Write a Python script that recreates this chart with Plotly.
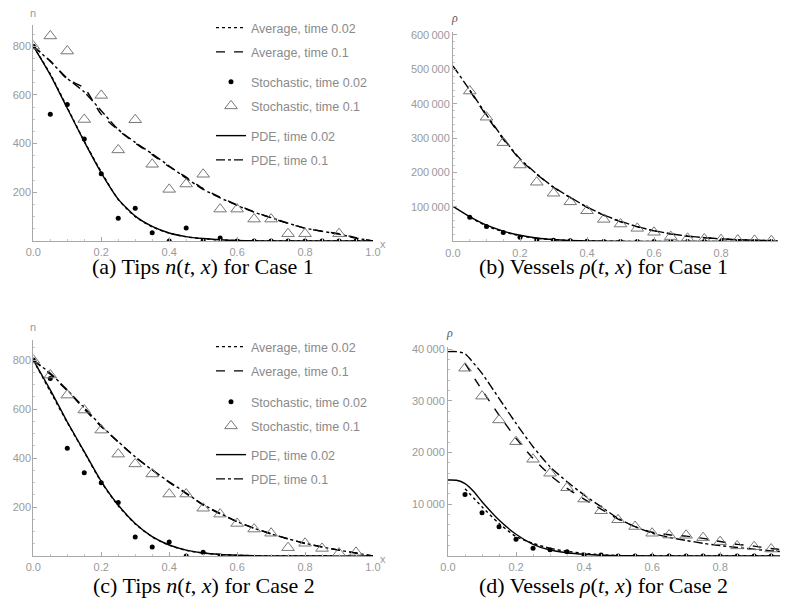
import plotly.graph_objects as go

# ---------------- data ----------------
X21 = [0.0, 0.05, 0.1, 0.15, 0.2, 0.25, 0.3, 0.35, 0.4, 0.45, 0.5, 0.55, 0.6, 0.65, 0.7, 0.75, 0.8, 0.85, 0.9, 0.95, 1.0]
X_05_95 = [0.05, 0.1, 0.15, 0.2, 0.25, 0.3, 0.35, 0.4, 0.45, 0.5, 0.55, 0.6, 0.65, 0.7, 0.75, 0.8, 0.85, 0.9, 0.95]
X_05_100 = X_05_95 + [1.0]

# Panel (a): Tips, Case 1
a_avg_002 = [800, 686, 548, 410, 284, 170, 100, 58, 32, 17, 9, 4, 2, 1, 0, 0, 0, 0, 0, 0, 0]
a_avg_01 = [800, 740, 665, 628, 520, 455, 402, 355, 305, 262, 215, 180, 148, 120, 95, 72, 52, 40, 30, 14, 0]
a_sto_002_x = [0.0, 0.05, 0.1, 0.15, 0.2, 0.25, 0.3, 0.35, 0.4, 0.45, 0.5, 0.55, 0.6, 0.65, 0.7, 0.75, 0.8, 0.85, 0.9, 0.95]
a_sto_002 = [800, 520, 561, 419, 276, 93, 134, 34, 0, 53, 2, 12, 0, 0, 0, 0, 0, 0, 0, 0]
a_sto_01_x = [0.0, 0.05, 0.1, 0.15, 0.2, 0.25, 0.3, 0.35, 0.4, 0.45, 0.5, 0.55, 0.6, 0.65, 0.7, 0.75, 0.8, 0.9]
a_sto_01 = [800, 842, 780, 499, 598, 374, 498, 315, 212, 234, 274, 131, 131, 90, 90, 30, 30, 30]
a_pde_002 = [800, 682, 545, 408, 280, 172, 102, 60, 33, 18, 10, 5, 2, 1, 0, 0, 0, 0, 0, 0, 0]
a_pde_01 = [800, 737, 668, 612, 535, 458, 405, 358, 308, 258, 212, 177, 146, 118, 96, 73, 53, 40, 28, 12, 0]

# Panel (b): Vessels, Case 1
b_avg_002 = [70000, 45000, 28000, 16500, 9000, 5000, 2700, 1400, 600, 250, 100, 0, 0, 0, 0, 0, 0, 0, 0]
b_avg_01 = [438000, 365000, 297000, 238000, 195000, 157000, 127000, 99000, 76000, 57000, 42500, 30500, 21500, 15000, 10500, 7200, 5000, 3500, 2000]
b_sto_002 = [70000, 43000, 26000, 12000, 4000, 3000, 2000, 500, 0, 0, 0, 0, 0, 0, 0, 0, 0, 0, 0]
b_sto_01 = [437000, 361000, 287000, 222000, 172000, 140000, 115000, 89000, 64000, 50500, 38000, 26500, 14000, 9000, 7000, 5000, 4000, 3000, 2000]
b_pde_002 = [102000, 72000, 47000, 30000, 18000, 10000, 5500, 3000, 1500, 700, 300, 100, 0, 0, 0, 0, 0, 0, 0, 0, 0]
b_pde_01 = [510000, 440000, 368000, 300000, 240000, 196000, 158000, 128000, 100000, 77000, 58000, 43000, 31000, 22000, 15500, 11000, 7500, 5000, 3500, 2000, 1000]

# Panel (c): Tips, Case 2
c_avg_002 = [800, 672, 545, 424, 302, 205, 131, 78, 44, 23, 12, 6, 3, 1, 0, 0, 0, 0, 0, 0, 0]
c_avg_01 = [800, 742, 675, 600, 528, 465, 404, 352, 300, 255, 208, 172, 140, 114, 91, 70, 51, 37, 24, 12, 0]
c_sto_002_x = [0.0, 0.05, 0.1, 0.15, 0.2, 0.25, 0.3, 0.35, 0.4, 0.45, 0.5, 0.55]
c_sto_002 = [800, 725, 440, 340, 299, 218, 78, 37, 57, 0, 15, 0]
c_sto_01_x = [0.0, 0.05, 0.1, 0.15, 0.2, 0.25, 0.3, 0.35, 0.4, 0.45, 0.5, 0.55, 0.6, 0.65, 0.7, 0.75, 0.8, 0.85, 0.9, 0.95]
c_sto_01 = [800, 739, 657, 596, 514, 416, 376, 335, 253, 253, 195, 171, 133, 110, 93, 34, 52, 31, 12, 15]
c_pde_002 = [800, 678, 548, 426, 305, 208, 133, 79, 45, 24, 12, 6, 3, 1, 0, 0, 0, 0, 0, 0, 0]
c_pde_01 = [800, 746, 678, 605, 532, 467, 405, 351, 303, 257, 210, 174, 140, 113, 90, 70, 52, 37, 24, 12, 0]

# Panel (d): Vessels, Case 2
d_avg_002 = [13000, 9500, 6300, 3750, 2450, 1480, 900, 500, 250, 100, 40, 0, 0, 0, 0, 0, 0, 0, 0]
d_avg_01 = [37240, 32080, 27250, 22740, 18880, 15650, 13080, 11010, 9080, 7150, 5670, 4600, 4100, 3850, 3400, 2800, 2250, 1900, 1450, 1100]
d_sto_002 = [11900, 8380, 5670, 3250, 1480, 1220, 840, 200, 200, 0, 0, 0, 0, 0, 0, 0, 0, 0, 0]
d_sto_01 = [36300, 30900, 26300, 22100, 18700, 16000, 13200, 11000, 8750, 7000, 5700, 4400, 4050, 4000, 3550, 2770, 1950, 1800, 1350]
d_pde_002_x = [0.0, 0.025, 0.05, 0.075, 0.1, 0.15, 0.2, 0.25, 0.3, 0.35, 0.4, 0.45, 0.5, 0.6, 0.7, 0.8, 0.9, 1.0]
d_pde_002 = [14700, 14650, 14000, 12500, 10500, 6950, 4200, 2260, 1160, 640, 330, 150, 70, 10, 0, 0, 0, 0]
d_pde_01_x = [0.0, 0.025, 0.05, 0.075, 0.1, 0.15, 0.2, 0.25, 0.3, 0.35, 0.4, 0.45, 0.5, 0.55, 0.6, 0.65, 0.7, 0.75, 0.8, 0.85, 0.9, 0.95, 1.0]
d_pde_01 = [39500, 39500, 39100, 37300, 35300, 30470, 25640, 21120, 17260, 14360, 11790, 9530, 7280, 5670, 4400, 3600, 3000, 2450, 2000, 1650, 1300, 1000, 750]

LEG_NAMES = ["Average, time 0.02", "Average, time 0.1", "Stochastic, time 0.02",
             "Stochastic, time 0.1", "PDE, time 0.02", "PDE, time 0.1"]

# ---------------- styles ----------------
W, H = 789, 610
OFF = 8  # page body margin of the browser
AX_GRAY = "#a8a8a8"
TXT_GRAY = "#9a9a9a"
LEG_GRAY = "#8a8a8a"
LW = 1.4

fig = go.Figure()


def add_panel(sfx, avg002, avg01, sto002, sto01, pde002, pde01, legends):
    xa, ya = "x" + sfx, "y" + sfx
    show = legends is not None
    lg = legends if show else ["legend", "legend", "legend"]
    gp = "g" + (sfx or "1")
    common = dict(xaxis=xa, yaxis=ya, showlegend=show)
    fig.add_trace(go.Scatter(x=avg002[0], y=avg002[1], mode="lines", name=LEG_NAMES[0],
                             line=dict(color="black", width=LW, dash="dot", shape="spline", smoothing=0.6),
                             legend=lg[0], legendgroup=gp + "a", **common))
    fig.add_trace(go.Scatter(x=avg01[0], y=avg01[1], mode="lines", name=LEG_NAMES[1],
                             line=dict(color="black", width=LW, dash="dash", shape="spline", smoothing=0.6),
                             legend=lg[0], legendgroup=gp + "b", **common))
    fig.add_trace(go.Scatter(x=pde002[0], y=pde002[1], mode="lines", name=LEG_NAMES[4],
                             line=dict(color="black", width=LW, shape="spline", smoothing=0.6),
                             legend=lg[2], legendgroup=gp + "e", **common))
    fig.add_trace(go.Scatter(x=pde01[0], y=pde01[1], mode="lines", name=LEG_NAMES[5],
                             line=dict(color="black", width=LW, dash="dashdot", shape="spline", smoothing=0.6),
                             legend=lg[2], legendgroup=gp + "f", **common))
    fig.add_trace(go.Scatter(x=sto002[0], y=sto002[1], mode="markers", name=LEG_NAMES[2],
                             marker=dict(symbol="circle", size=5, color="black"),
                             legend=lg[1], legendgroup=gp + "c", **common))
    fig.add_trace(go.Scatter(x=sto01[0], y=sto01[1], mode="markers", name=LEG_NAMES[3],
                             marker=dict(symbol="triangle-up-open", size=11, color="#777777",
                                         line=dict(width=1)),
                             legend=lg[1], legendgroup=gp + "d", **common))


add_panel("", (X21, a_avg_002), (X21, a_avg_01), (a_sto_002_x, a_sto_002), (a_sto_01_x, a_sto_01),
          (X21, a_pde_002), (X21, a_pde_01), ["legend", "legend2", "legend3"])
add_panel("2", (X_05_95, b_avg_002), (X_05_95, b_avg_01), (X_05_95, b_sto_002), (X_05_95, b_sto_01),
          (X21, b_pde_002), (X21, b_pde_01), None)
add_panel("3", (X21, c_avg_002), (X21, c_avg_01), (c_sto_002_x, c_sto_002), (c_sto_01_x, c_sto_01),
          (X21, c_pde_002), (X21, c_pde_01), ["legend4", "legend5", "legend6"])
add_panel("4", (X_05_95, d_avg_002), (X_05_100, d_avg_01), (X_05_95, d_sto_002), (X_05_95, d_sto_01),
          (d_pde_002_x, d_pde_002), (d_pde_01_x, d_pde_01), None)


def px_x(p):
    return (p - OFF) / W


def px_y(p):
    return 1 - (p - OFF) / H


tickfont = dict(family="Liberation Sans", size=11, color=TXT_GRAY)


def xaxis(dom, rng, minor_dt, anchor):
    return dict(domain=[px_x(dom[0]), px_x(dom[1])], range=rng, showline=True, linecolor=AX_GRAY,
                linewidth=1, ticks="inside", ticklen=4, tickcolor=AX_GRAY, tickwidth=1,
                tickvals=[0, 0.2, 0.4, 0.6, 0.8, 1.0], tickformat=".1f", tickfont=tickfont,
                ticklabelstandoff=1,
                showgrid=False, zeroline=False, fixedrange=True, automargin=False, anchor=anchor,
                minor=dict(ticks="inside", ticklen=2, tickcolor="#c4c4c4", dtick=minor_dt, showgrid=False))


def yaxis(dom, rng, tv, tt, minor_dt, anchor, standoff):
    return dict(domain=[px_y(dom[1]), px_y(dom[0])], range=rng, showline=True, linecolor=AX_GRAY,
                linewidth=1, ticks="inside", ticklen=4, tickcolor=AX_GRAY, tickwidth=1,
                tickvals=tv, ticktext=tt, tickfont=tickfont, showgrid=False, zeroline=False,
                ticklabelstandoff=standoff,
                fixedrange=True, anchor=anchor, automargin=False,
                minor=dict(ticks="inside", ticklen=2, tickcolor="#c4c4c4", dtick=minor_dt, showgrid=False))


TS = "\u2009"
n_ticks = [200, 400, 600, 800]
b_ticks = [100000, 200000, 300000, 400000, 500000, 600000]
b_text = [f"{v // 1000}{TS}000" for v in b_ticks]
d_ticks = [10000, 20000, 30000, 40000]
d_text = [f"{v // 1000}{TS}000" for v in d_ticks]

legend_common = dict(font=dict(family="Liberation Sans", size=12.5, color=LEG_GRAY),
                     bgcolor="rgba(0,0,0,0)", borderwidth=0, itemwidth=30,
                     traceorder="grouped", tracegroupgap=5, xanchor="left", yanchor="top",
                     itemclick=False, itemdoubleclick=False)

layout = dict(
    template="none",
    width=W, height=H, margin=dict(l=0, r=0, t=0, b=0, pad=0, autoexpand=False),
    paper_bgcolor="white", plot_bgcolor="white",
    xaxis=xaxis((33.3, 373.0), [0, 1.0], 0.05, "y"),
    yaxis=yaxis((25, 241), [0, 887], n_ticks, [str(v) for v in n_ticks], 50, "x", -1),
    xaxis2=xaxis((453.0, 778.0), [0, 0.97], 0.05, "y2"),
    yaxis2=yaxis((32.2, 241.4), [0, 608000], b_ticks, b_text, 20000, "x2", 0),
    xaxis3=xaxis((33.3, 373.0), [0, 1.0], 0.05, "y3"),
    yaxis3=yaxis((340, 556), [0, 882], n_ticks, [str(v) for v in n_ticks], 50, "x3", -1),
    xaxis4=xaxis((448.0, 780.0), [0, 0.976], 0.05, "y4"),
    yaxis4=yaxis((347, 556), [0, 40400], d_ticks, d_text, 2000, "x4", 0),
)

leg_x = px_x(211)
for lid, top in [("legend", 13), ("legend2", 67), ("legend3", 121),
                 ("legend4", 332), ("legend5", 387), ("legend6", 440)]:
    layout[lid] = dict(x=leg_x, y=px_y(top), **legend_common)

fig.update_layout(**layout)

ann = []
lab_font = dict(family="Liberation Sans", size=11, color=TXT_GRAY)
rho_font = dict(family="Liberation Serif", size=12, color="#555555")
ann.append(dict(x=px_x(33), y=px_y(13), text="n", font=lab_font))
ann.append(dict(x=px_x(383), y=px_y(244), text="x", font=lab_font))
ann.append(dict(x=px_x(33), y=px_y(327), text="n", font=lab_font))
ann.append(dict(x=px_x(383), y=px_y(559), text="x", font=lab_font))
ann.append(dict(x=px_x(455), y=px_y(18), text="<i>ρ</i>", font=rho_font))
ann.append(dict(x=px_x(449), y=px_y(333), text="<i>ρ</i>", font=rho_font))
cap_font = dict(family="Liberation Serif", size=22, color="black")
ann.append(dict(x=px_x(203), y=px_y(266), text="(a) Tips <i>n</i>(<i>t</i>, <i>x</i>) for Case 1", font=cap_font))
ann.append(dict(x=px_x(603), y=px_y(266), text="(b) Vessels <i>ρ</i>(<i>t</i>, <i>x</i>) for Case 1", font=cap_font))
ann.append(dict(x=px_x(204), y=px_y(585), text="(c) Tips <i>n</i>(<i>t</i>, <i>x</i>) for Case 2", font=cap_font))
ann.append(dict(x=px_x(603), y=px_y(585), text="(d) Vessels <i>ρ</i>(<i>t</i>, <i>x</i>) for Case 2", font=cap_font))
for a in ann:
    a.update(xref="paper", yref="paper", showarrow=False, xanchor="center", yanchor="middle")
fig.update_layout(annotations=ann)

fig.write_html("out.html")
